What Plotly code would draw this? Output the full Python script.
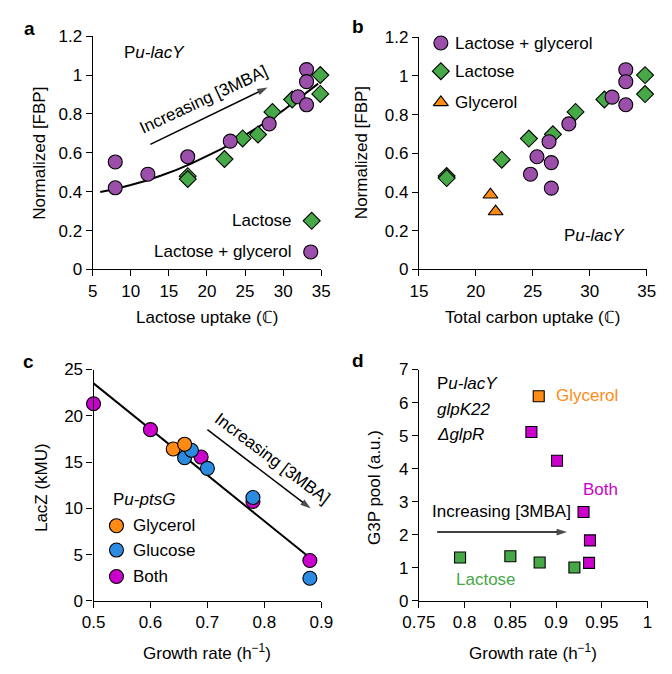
import plotly.graph_objects as go

# ---------------- data ----------------
# Panel a: normalized FBP vs lactose uptake
a_lg_x = [7.97, 7.97, 12.25, 17.48, 23.06, 28.17, 31.94, 33.07, 33.07, 33.07]
a_lg_y = [0.553, 0.42, 0.49, 0.58, 0.66, 0.749, 0.888, 1.028, 0.966, 0.847]
a_lac_x = [17.48, 17.48, 22.3, 24.69, 26.7, 28.59, 31.18, 34.87, 34.87]
a_lac_y = [0.48, 0.465, 0.568, 0.674, 0.694, 0.81, 0.874, 1.0, 0.903]
a_fit_x = [6, 8, 10, 12, 14, 16, 18, 20, 22, 24, 26, 28, 30, 32, 34, 34.6]
a_fit_y = [0.398, 0.414, 0.434, 0.456, 0.483, 0.512, 0.546, 0.582, 0.622,
           0.666, 0.713, 0.764, 0.818, 0.876, 0.937, 0.956]

# Panel b: normalized FBP vs total carbon uptake
b_lg_x = [25.37, 24.80, 26.43, 26.63, 26.63, 28.17, 31.97, 33.17, 33.17, 33.17]
b_lg_y = [0.582, 0.492, 0.66, 0.552, 0.42, 0.752, 0.89, 1.032, 0.97, 0.851]
b_lac_x = [17.44, 17.44, 22.28, 24.66, 26.77, 28.76, 31.29, 34.86, 34.86]
b_lac_y = [0.483, 0.472, 0.567, 0.676, 0.698, 0.814, 0.878, 1.004, 0.906]
b_gly_x = [21.29, 21.74]
b_gly_y = [0.386, 0.299]

# Panel c: LacZ vs growth rate
c_both_x = [0.50, 0.60, 0.689, 0.78, 0.88]
c_both_y = [21.3, 18.5, 15.54, 10.75, 4.36]
c_glu_x = [0.66, 0.672, 0.70, 0.78, 0.88]
c_glu_y = [15.47, 16.27, 14.32, 11.17, 2.44]
c_gly_x = [0.64, 0.66]
c_gly_y = [16.41, 16.93]
c_fit_x = [0.5, 0.875]
c_fit_y = [23.5, 4.9]

# Panel d: G3P pool vs growth rate
d_gly_x = [0.881]
d_gly_y = [6.19]
d_both_x = [0.873, 0.901, 0.930, 0.937, 0.936]
d_both_y = [5.11, 4.24, 2.69, 1.83, 1.15]
d_lac_x = [0.795, 0.850, 0.882, 0.920]
d_lac_y = [1.31, 1.35, 1.16, 1.01]

# tick labels
a_xticks = [5, 10, 15, 20, 25, 30, 35]
b_xticks = [15, 20, 25, 30, 35]
ab_yticks = [0, 0.2, 0.4, 0.6, 0.8, 1.0, 1.2]
ab_yticktext = ["0", "0.2", "0.4", "0.6", "0.8", "1", "1.2"]
c_xticks = [0.5, 0.6, 0.7, 0.8, 0.9]
c_yticks = [0, 5, 10, 15, 20, 25]
d_xticks = [0.75, 0.8, 0.85, 0.9, 0.95, 1.0]
d_xticktext = ["0.75", "0.8", "0.85", "0.9", "0.95", "1"]
d_yticks = [0, 1, 2, 3, 4, 5, 6, 7]

# ---------------- style ----------------
FONT = "Liberation Sans, Arial, Helvetica, sans-serif"
FS = 17
PURPLE = "#9b4fab"
GREEN = "#46a846"
ORANGE = "#ff8a14"
BLUE = "#2b8be0"
MAGENTA = "#cc00cc"
OUT = dict(color="black", width=1.1)

fig = go.Figure()


def mk(x, y, xa, ya, color, symbol, size):
    fig.add_trace(go.Scatter(x=x, y=y, xaxis=xa, yaxis=ya, mode="markers",
                             cliponaxis=False, showlegend=False, hoverinfo="skip",
                             marker=dict(color=color, symbol=symbol, size=size, line=OUT)))


def ln(x, y, xa, ya):
    fig.add_trace(go.Scatter(x=x, y=y, xaxis=xa, yaxis=ya, mode="lines",
                             cliponaxis=False, showlegend=False, hoverinfo="skip",
                             line=dict(color="black", width=2)))


def arrow(x0, y0, x1, y1, xa, ya):
    fig.add_trace(go.Scatter(x=[x0, x1], y=[y0, y1], xaxis=xa, yaxis=ya,
                             mode="lines+markers", cliponaxis=False, showlegend=False,
                             hoverinfo="skip", line=dict(color="black", width=1.5),
                             marker=dict(symbol=["circle", "arrow"], size=[0, 11],
                                         angleref="previous", color="black",
                                         line=dict(width=0))))


# panel a
ln(a_fit_x, a_fit_y, "x", "y")
mk(a_lac_x, a_lac_y, "x", "y", GREEN, "diamond", 13)
mk(a_lg_x, a_lg_y, "x", "y", PURPLE, "circle", 14)
# panel a legend keys
mk([33.74], [0.25], "x", "y", GREEN, "diamond", 13)
mk([33.62], [0.09], "x", "y", PURPLE, "circle", 14)
arrow(12.58, 0.643, 27.96, 0.936, "x", "y")

# panel b
mk(b_lac_x, b_lac_y, "x2", "y2", GREEN, "diamond", 13)
mk(b_lg_x, b_lg_y, "x2", "y2", PURPLE, "circle", 14)
mk(b_gly_x, b_gly_y, "x2", "y2", ORANGE, "triangle-up", 13)
# panel b legend keys
mk([16.93], [1.17], "x2", "y2", PURPLE, "circle", 14)
mk([16.93], [1.024], "x2", "y2", GREEN, "diamond", 13)
mk([16.93], [0.863], "x2", "y2", ORANGE, "triangle-up", 13)

# panel c
ln(c_fit_x, c_fit_y, "x3", "y3")
mk(c_both_x, c_both_y, "x3", "y3", MAGENTA, "circle", 14)
mk(c_glu_x, c_glu_y, "x3", "y3", BLUE, "circle", 14)
mk(c_gly_x, c_gly_y, "x3", "y3", ORANGE, "circle", 14)
# panel c legend keys
mk([0.5403], [8.12], "x3", "y3", ORANGE, "circle", 14)
mk([0.5403], [5.49], "x3", "y3", BLUE, "circle", 14)
mk([0.5403], [2.63], "x3", "y3", MAGENTA, "circle", 14)
arrow(0.70, 18.5, 0.8815, 9.99, "x3", "y3")

# panel d
mk(d_lac_x, d_lac_y, "x4", "y4", GREEN, "square", 11)
mk(d_both_x, d_both_y, "x4", "y4", MAGENTA, "square", 11)
mk(d_gly_x, d_gly_y, "x4", "y4", ORANGE, "square", 11)
arrow(0.77, 2.08, 0.912, 2.08, "x4", "y4")

axis_common = dict(showline=True, linecolor="black", linewidth=1.1, ticks="outside",
                   ticklen=6, tickwidth=1.1, tickcolor="black", showgrid=False,
                   zeroline=False, tickfont=dict(size=FS, color="black", family=FONT),
                   fixedrange=True)

fig.update_layout(
    width=672, height=674,
    margin=dict(l=0, r=0, t=0, b=0),
    paper_bgcolor="white", plot_bgcolor="white",
    font=dict(family=FONT, size=FS, color="black"),
    showlegend=False,
    xaxis=dict(domain=[0.1176, 0.4732], range=[5, 35], anchor="y",
               tickvals=a_xticks, **axis_common),
    yaxis=dict(domain=[0.6024, 0.9585], range=[0, 1.2], anchor="x",
               tickvals=ab_yticks, ticktext=ab_yticktext, **axis_common),
    xaxis2=dict(domain=[0.625, 0.9792], range=[15, 35], anchor="y2",
                tickvals=b_xticks, **axis_common),
    yaxis2=dict(domain=[0.6024, 0.957], range=[0, 1.2], anchor="x2",
                tickvals=ab_yticks, ticktext=ab_yticktext, **axis_common),
    xaxis3=dict(domain=[0.119, 0.4732], range=[0.5, 0.9], anchor="y3",
                tickvals=c_xticks, **axis_common),
    yaxis3=dict(domain=[0.0964, 0.4496], range=[0, 25], anchor="x3",
                tickvals=c_yticks, **axis_common),
    xaxis4=dict(domain=[0.625, 0.9807], range=[0.75, 1.0], anchor="y4",
                tickvals=d_xticks, ticktext=d_xticktext, **axis_common),
    yaxis4=dict(domain=[0.0964, 0.4496], range=[0, 7], anchor="x4",
                tickvals=d_yticks, **axis_common),
)

ann = []


def txt(text, x, y, xanchor="center", size=FS, color="black", angle=0, xref="paper", yref="paper"):
    ann.append(dict(text=text, x=x, y=y, xref=xref, yref=yref, xanchor=xanchor,
                    yanchor="middle", showarrow=False, textangle=angle,
                    font=dict(size=size, color=color, family=FONT)))


# panel letters
txt("<b>a</b>", 0.0193, 0.9703, size=19)
txt("<b>b</b>", 0.530, 0.9733, size=19)
txt("<b>c</b>", 0.0178, 0.4614, size=19)
txt("<b>d</b>", 0.530, 0.4629, size=19)

# axis titles
txt("Lactose uptake (ℂ)", 0.2954, 0.5297)
txt("Total carbon uptake (ℂ)", 0.802, 0.5297)
txt("Growth rate (h<sup>−1</sup>)", 0.296, 0.0178)
txt("Growth rate (h<sup>−1</sup>)", 0.803, 0.0178)
txt("Normalized [FBP]", 0.0357, 0.7804, angle=-90)
txt("Normalized [FBP]", 0.537, 0.7804, angle=-90)
txt("LacZ (kMU)", 0.0372, 0.27, angle=-90)
txt("G3P pool (a.u.)", 0.555, 0.27, angle=-90)

# panel a
txt("P<i>u-lacY</i>", 0.1637, 0.9332, xanchor="left")
txt("Lactose", 0.4315, 0.6766, xanchor="right")
txt("Lactose + glycerol", 0.4315, 0.6291, xanchor="right")
txt("Increasing [3MBA]", 19.6, 0.875, angle=-25, xref="x", yref="y")

# panel b
txt("Lactose + glycerol", 0.6786, 0.948, xanchor="left")
txt("Lactose", 0.6786, 0.905, xanchor="left")
txt("Glycerol", 0.6786, 0.8576, xanchor="left")
txt("P<i>u-lacY</i>", 0.8988, 0.6543)

# panel c
txt("P<i>u-ptsG</i>", 0.1458, 0.2507, xanchor="left")
txt("Glycerol", 0.1771, 0.2111, xanchor="left")
txt("Glucose", 0.1771, 0.174, xanchor="left")
txt("Both", 0.1771, 0.1335, xanchor="left")
txt("Increasing [3MBA]", 0.814, 15.4, angle=37, xref="x3", yref="y3")

# panel d
txt("P<i>u-lacY</i>", 0.6503, 0.4288, xanchor="left")
txt("<i>glpK22</i>", 0.6503, 0.3892, xanchor="left")
txt("<i>ΔglpR</i>", 0.6503, 0.3501, xanchor="left")
txt("Glycerol", 0.8348, 0.4095, xanchor="left", color=ORANGE)
txt("Both", 0.8765, 0.267, xanchor="left", color=MAGENTA)
txt("Lactose", 0.680, 0.129, xanchor="left", color=GREEN)
txt("Increasing [3MBA]", 0.6429, 0.2329, xanchor="left")

fig.update_layout(annotations=ann)
fig.write_html("out.html")
